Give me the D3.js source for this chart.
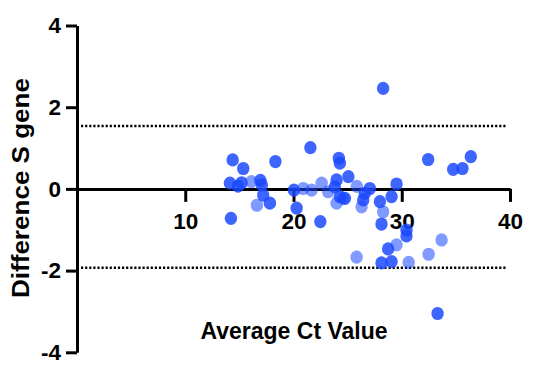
<!DOCTYPE html>
<html>
<head>
<meta charset="utf-8">
<script src="https://cdn.jsdelivr.net/npm/d3@7"></script>
<style>
  body { margin:0; background:#fff; }
  svg text { font-family:"Liberation Sans", Arial, sans-serif; font-weight:700; fill:#000; }
</style>
</head>
<body>
<div id="chart"></div>
<script>
// Bland-Altman: average Ct vs difference (S gene)
const xTicks = [10, 20, 30, 40];
const yTicks = [-4, -2, 0, 2, 4];
const upperLoA = 1.54, lowerLoA = -1.93;

// opaque points [avg Ct, difference]
const darkPts = [
  [14.38,0.71],[15.36,0.50],[14.13,0.14],[14.87,0.07],[15.21,0.15],[16.94,0.21],
  [17.08,0.10],[17.20,-0.15],[17.82,-0.35],[14.22,-0.72],[18.33,0.67],[21.56,1.01],
  [20.04,-0.03],[20.29,-0.47],[22.48,-0.80],[23.82,0.05],[23.98,0.22],[24.19,0.75],
  [24.28,0.63],[24.28,-0.19],[24.75,-0.23],[25.07,0.30],[26.59,-0.11],[26.44,-0.27],
  [27.05,0.01],[27.98,-0.31],[28.13,-0.86],[28.28,2.46],[29.06,-0.19],[29.52,0.12],
  [30.44,-1.01],[30.44,-1.15],[28.74,-1.47],[28.13,-1.81],[29.06,-1.78],[32.44,0.72],
  [34.75,0.48],[35.61,0.50],[36.38,0.79],[33.31,-3.05]
];
// paler points
const lightPts = [
  [16.11,0.18],[16.62,-0.40],[20.90,0.01],[21.67,-0.03],[22.60,0.14],[23.20,-0.07],
  [23.98,-0.35],[24.59,-0.23],[25.85,0.06],[26.29,-0.44],[28.28,-0.56],[29.52,-1.37],
  [25.83,-1.67],[30.64,-1.80],[32.48,-1.60],[33.68,-1.25]
];

const W = 539, H = 378;
const svg = d3.select('#chart').append('svg').attr('width',W).attr('height',H);

const x = d3.scaleLinear().domain([0,40]).range([77,510]);
const y = d3.scaleLinear().domain([-4,4]).range([352.3,25.5]);

// limits of agreement
svg.selectAll('.loa').data([upperLoA, lowerLoA]).join('line').attr('class','loa')
  .attr('x1', x(0)+4).attr('x2', x(40)-3)
  .attr('y1', d=>y(d)).attr('y2', d=>y(d))
  .attr('stroke','#000').attr('stroke-width',2.6).attr('stroke-dasharray','2.2,1.9');

// axes
const yAx = svg.append('g').attr('transform',`translate(${x(0)},0)`)
  .call(d3.axisLeft(y).tickValues(yTicks).tickSize(11).tickSizeOuter(0).tickPadding(5).tickFormat(d => String(d)));
const xAx = svg.append('g').attr('transform',`translate(0,${y(0)})`)
  .call(d3.axisBottom(x).tickValues(xTicks).tickSize(13).tickSizeOuter(0).tickPadding(11));
[xAx, yAx].forEach(a => {
  a.select('.domain').attr('stroke','#000').attr('stroke-width',3);
  a.selectAll('.tick line').attr('stroke','#000').attr('stroke-width',3);
  a.selectAll('.tick text').style('font-family','"Liberation Sans", Arial, sans-serif')
    .style('font-weight','700').style('font-size','22.5px').attr('fill','#000');
});

// points
const pt = (data, op) => svg.append('g').selectAll('ellipse').data(data).join('ellipse')
  .attr('cx', d=>x(d[0])).attr('cy', d=>y(d[1]))
  .attr('rx', 6.2).attr('ry', 6.6)
  .attr('fill', '#1a47ff').attr('opacity', op);
pt(lightPts, 0.55);
pt(darkPts, 0.84);

// titles
svg.append('text').attr('x',294).attr('y',339).attr('text-anchor','middle')
  .style('font-size','23px').text('Average Ct Value');
svg.append('text').attr('transform','translate(29,188) rotate(-90)').attr('text-anchor','middle')
  .style('font-size','23px').attr('textLength',220).attr('lengthAdjust','spacingAndGlyphs')
  .text('Difference S gene');
</script>
</body>
</html>
